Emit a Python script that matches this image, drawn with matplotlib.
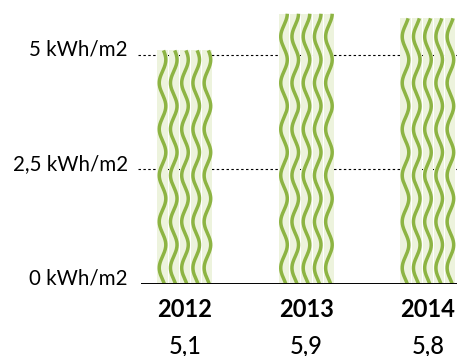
import matplotlib
matplotlib.use("Agg")
import matplotlib.pyplot as plt
import matplotlib.transforms as mtransforms
import numpy as np

plt.rcParams['font.family'] = ['Lato', 'DejaVu Sans']

years = ['2012', '2013', '2014']
values = [5.1, 5.9, 5.8]
value_labels = ['5,1', '5,9', '5,8']
ytick_values = [0, 2.5, 5]
ytick_labels = ['0 kWh/m2', '2,5 kWh/m2', '5 kWh/m2']

line_green = '#8db443'
fill_green = '#edf3dd'

fig = plt.figure(figsize=(4.57, 3.56), dpi=100)
ax = fig.add_axes([141 / 457, 72 / 356, 316 / 457, 284 / 356])
ax.set_xlim(-0.362, 2.239)
ax.set_ylim(0, 6.2)
ax.axis('off')

# bars: five narrow stripes, each carrying a wavy line
bar_w = 0.462
n_strip = 5
strip_w = bar_w / n_strip
gap = 0.009
wave_len = 1.01
wave_amp = 0.027
for i, v in enumerate(values):
    left = i - bar_w / 2
    y = np.linspace(0, v, 400)
    for k in range(n_strip):
        x0 = left + k * strip_w
        ax.add_patch(plt.Rectangle((x0 + gap / 2, 0), strip_w - gap, v,
                                   facecolor=fill_green, edgecolor='none', zorder=2))
        cx = x0 + strip_w / 2
        xs = cx - wave_amp * np.sin(2 * np.pi * (y - 0.35) / wave_len + np.pi / 2)
        ax.plot(xs, y, color=line_green, lw=2.5, solid_capstyle='butt', zorder=3)

# grid lines and baseline
for yv in ytick_values[1:]:
    ax.axhline(yv, xmin=-0.01, xmax=1, color='black', lw=0.8,
               ls=(0, (2.2, 2.2)), clip_on=False, zorder=1)
ax.axhline(0, color='black', lw=1.4, zorder=4)

ytrans = mtransforms.blended_transform_factory(ax.transAxes, ax.transData)
for yv, lab in zip(ytick_values, ytick_labels):
    ax.annotate(lab, xy=(0, yv), xycoords=ytrans, xytext=(-9.5, 4),
                textcoords='offset points', ha='right', va='center',
                fontsize=14.8, color='black')

xtrans = mtransforms.blended_transform_factory(ax.transData, ax.transAxes)
for i, (yr, vl) in enumerate(zip(years, value_labels)):
    ax.annotate(yr, xy=(i, 0), xycoords=xtrans, xytext=(0, -18.5),
                textcoords='offset points', ha='center', va='center',
                fontsize=17, fontweight='bold', color='black')
    ax.annotate(vl, xy=(i, 0), xycoords=xtrans, xytext=(0, -44.5),
                textcoords='offset points', ha='center', va='center',
                fontsize=17, fontweight='medium', color='black')

fig.savefig('out.png', dpi=100)
